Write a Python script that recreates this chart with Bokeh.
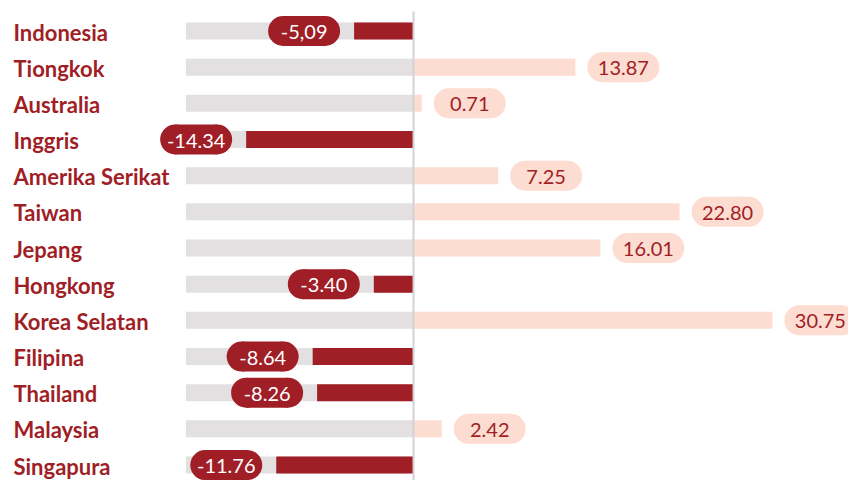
from bokeh.plotting import figure
from bokeh.models import Range1d
from bokeh.embed import file_html
from bokeh.resources import INLINE
from bokeh.core.properties import value

# ---- data ----
countries = ["Indonesia", "Tiongkok", "Australia", "Inggris", "Amerika Serikat",
             "Taiwan", "Jepang", "Hongkong", "Korea Selatan", "Filipina",
             "Thailand", "Malaysia", "Singapura"]
values = [-5.09, 13.87, 0.71, -14.34, 7.25, 22.80, 16.01, -3.40, 30.75,
          -8.64, -8.26, 2.42, -11.76]
value_labels = ["-5,09", "13.87", "0.71", "-14.34", "7.25", "22.80", "16.01",
                "-3.40", "30.75", "-8.64", "-8.26", "2.42", "-11.76"]
background_min = -19.5

# ---- layout / style ----
FW, FH = 848, 480
SCALE = 11.67          # px per unit
ZERO_PX = 413          # frame x of zero
ROW_PX = 36.17
TOP_PX = 30.5          # frame y of first row
DARK = "#a01e26"
PINK = "#fddcd1"
GRAY = "#e2e0e1"
LINE = "#d4d1d5"
FONT = "Lato"

x_start = -ZERO_PX / SCALE
x_end = (FW - ZERO_PX) / SCALE
n = len(countries)
y_top = -TOP_PX / ROW_PX
y_bottom = y_top + FH / ROW_PX

p = figure(width=FW, height=FH, x_range=Range1d(x_start, x_end),
           y_range=Range1d(y_bottom, y_top), output_backend="svg",
           toolbar_location=None, min_border=0,
           x_axis_location=None, y_axis_location=None)
p.grid.visible = False
p.outline_line_color = None
p.background_fill_color = "white"
p.border_fill_color = "white"

idx = list(range(n))
bar_h = 17 / ROW_PX

# background bars
p.hbar(y=idx, left=background_min, right=0, height=bar_h,
       fill_color=GRAY, line_color=None)

pos = [i for i in idx if values[i] >= 0]
neg = [i for i in idx if values[i] < 0]

p.hbar(y=pos, left=0, right=[values[i] for i in pos], height=bar_h,
       fill_color=PINK, line_color=None)
p.hbar(y=neg, left=[values[i] for i in neg], right=0, height=bar_h,
       fill_color=DARK, line_color=None)

# zero line
p.segment(x0=[0], y0=[y_top + 11 / ROW_PX], x1=[0], y1=[y_bottom],
          line_color=LINE, line_width=2)

# pills
PILL_W, PILL_H = 72, 30
GAP_POS, GAP_NEG = 12, 14

def pill(rows, fill, text_color):
    cx = []
    for i in rows:
        v = values[i]
        if v >= 0:
            cx.append(v + (GAP_POS + PILL_W / 2) / SCALE)
        else:
            cx.append(v - (GAP_NEG + PILL_W / 2) / SCALE)
    ys = rows
    half = (PILL_W - PILL_H) / 2 / SCALE
    p.rect(x=cx, y=ys, width=PILL_W - PILL_H, height=PILL_H,
           width_units="screen", height_units="screen",
           fill_color=fill, line_color=None)
    p.scatter(x=[c - half for c in cx], y=ys, size=PILL_H, marker="circle",
              fill_color=fill, line_color=None)
    p.scatter(x=[c + half for c in cx], y=ys, size=PILL_H, marker="circle",
              fill_color=fill, line_color=None)
    p.text(x=cx, y=ys, text=[value_labels[i] for i in rows],
           text_align="center", text_baseline="middle", y_offset=1,
           text_font=value(FONT), text_font_size="20px",
           text_color=text_color)

pill(neg, DARK, "white")
pill(pos, PINK, DARK)

# category labels
p.text(x=[x_start] * n, y=idx, text=countries, x_offset=13, y_offset=1,
       text_align="left", text_baseline="middle",
       text_font=value(FONT), text_font_style="bold", text_font_size="22px",
       text_color=DARK)

open("out.html", "w").write(file_html(p, INLINE))
